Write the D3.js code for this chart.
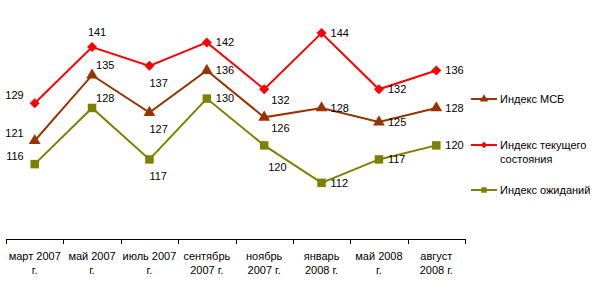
<!DOCTYPE html>
<html>
<head>
<meta charset="utf-8">
<script src="https://cdn.jsdelivr.net/npm/d3@7"></script>
<style>
  body { margin: 0; background: #fff; }
  svg { display: block; font-family: "Liberation Sans", Arial, sans-serif; }
</style>
</head>
<body>
<svg id="chart"></svg>
<script>
// categories and series
var categories = ["март 2007 г.", "май 2007 г.", "июль 2007 г.", "сентябрь 2007 г.",
  "ноябрь 2007 г.", "январь 2008 г.", "май 2008 г.", "август 2008 г."];
var msbValues = [121, 135, 127, 136, 126, 128, 125, 128];
var currentValues = [129, 141, 137, 142, 132, 144, 132, 136];
var expectValues = [116, 128, 117, 130, 120, 112, 117, 120];
var seriesNames = ["Индекс МСБ", "Индекс текущего состояния", "Индекс ожиданий"];

// where each value label sits relative to its point
var msbLabelPos = ["l", "ar", "b", "r", "br", "r", "r", "r"];
var currentLabelPos = ["l", "a", "b", "r", "br", "r", "r", "r"];
var expectLabelPos = ["l", "ar", "b", "r", "b2", "r", "r", "r"];

var width = 600, height = 291;
var plot = { left: 6, right: 465, top: 5, bottom: 239 };

var svg = d3.select("#chart").attr("width", width).attr("height", height);

var xscale = d3.scaleBand().domain(categories).range([plot.left, plot.right]);
var yscale = d3.scaleLinear().domain([100, 150]).range([plot.bottom, plot.top]);

// x axis
var xaxis = d3.axisBottom(xscale).tickSize(0).tickFormat("");
var gx = svg.append("g")
  .attr("transform", "translate(0," + plot.bottom + ")")
  .call(xaxis);
gx.select(".domain").attr("stroke", "#000").attr("d", "M" + plot.left + ",0.5H" + plot.right);

// tick marks between categories
var edges = categories.map(function (c) { return xscale(c); }).concat([plot.right]);
gx.selectAll(".sep")
  .data(edges)
  .enter()
  .append("line")
  .attr("x1", function (d) { return Math.round(d) + 0.5; })
  .attr("x2", function (d) { return Math.round(d) + 0.5; })
  .attr("y1", 0)
  .attr("y2", 5)
  .attr("stroke", "#000");

// category labels, wrapped to band width
categories.forEach(function (c) {
  var cx = xscale(c) + xscale.bandwidth() / 2;
  var t = svg.append("text")
    .attr("x", cx)
    .attr("y", 260)
    .attr("text-anchor", "middle")
    .style("font-size", "11px")
    .attr("fill", "#000");
  var words = c.split(" ");
  var line = [];
  var tspan = t.append("tspan").attr("x", cx).attr("dy", 0);
  words.forEach(function (w) {
    line.push(w);
    tspan.text(line.join(" "));
    if (tspan.node().getComputedTextLength() > xscale.bandwidth() - 2 && line.length > 1) {
      line.pop();
      tspan.text(line.join(" "));
      line = [w];
      tspan = t.append("tspan").attr("x", cx).attr("dy", 14).text(w);
    }
  });
});

var series = [
  { values: msbValues, color: "#993300", marker: d3.symbolTriangle, size: 60, rot: 0, pos: msbLabelPos, lsize: 30 },
  { values: currentValues, color: "#FF0000", marker: d3.symbolSquare, size: 50, rot: 45, pos: currentLabelPos, lsize: 20 },
  { values: expectValues, color: "#808000", marker: d3.symbolSquare, size: 72, rot: 0, pos: expectLabelPos, lsize: 30 }
];

var labelOffsets = {
  l: { dx: -11, dy: -8, anchor: "end" },
  a: { dx: 5, dy: -15, anchor: "middle" },
  ar: { dx: 4, dy: -10, anchor: "start" },
  b: { dx: 0, dy: 17, anchor: "start" },
  b2: { dx: 4, dy: 22, anchor: "start" },
  br: { dx: 7, dy: 11, anchor: "start" },
  r: { dx: 9, dy: 0, anchor: "start" }
};

var line = d3.line()
  .x(function (d, i) { return xscale(categories[i]) + xscale.bandwidth() / 2; })
  .y(function (d) { return yscale(d); });

series.forEach(function (s) {
  svg.append("path")
    .attr("fill", "none")
    .attr("stroke", s.color)
    .attr("stroke-width", 2)
    .attr("d", line(s.values));

  svg.selectAll(null)
    .data(s.values)
    .enter()
    .append("path")
    .attr("d", d3.symbol().type(s.marker).size(s.size))
    .attr("fill", s.color)
    .attr("transform", function (d, i) {
      return "translate(" + (xscale(categories[i]) + xscale.bandwidth() / 2) + "," + yscale(d) + ")rotate(" + s.rot + ")";
    });

  svg.selectAll(null)
    .data(s.values)
    .enter()
    .append("text")
    .attr("x", function (d, i) {
      return xscale(categories[i]) + xscale.bandwidth() / 2 + labelOffsets[s.pos[i]].dx;
    })
    .attr("y", function (d, i) { return yscale(d) + labelOffsets[s.pos[i]].dy; })
    .attr("dy", "0.35em")
    .attr("text-anchor", function (d, i) { return labelOffsets[s.pos[i]].anchor; })
    .style("font-size", "11px")
    .attr("fill", "#000")
    .text(function (d) { return d; });
});

// legend
var legendY = [99, 145, 190];
var legendLines = [["Индекс МСБ"], ["Индекс текущего", "состояния"], ["Индекс ожиданий"]];
series.forEach(function (s, i) {
  var g = svg.append("g").attr("transform", "translate(0," + legendY[i] + ")");
  g.append("line")
    .attr("x1", 471).attr("x2", 497)
    .attr("y1", 0).attr("y2", 0)
    .attr("stroke", s.color)
    .attr("stroke-width", 2);
  g.append("path")
    .attr("d", d3.symbol().type(s.marker).size(s.lsize))
    .attr("fill", s.color)
    .attr("transform", "translate(484,0)rotate(" + s.rot + ")");
  var t = g.append("text")
    .attr("x", 500)
    .attr("y", 0)
    .style("font-size", "11px")
    .attr("fill", "#000");
  legendLines[i].forEach(function (l, j) {
    t.append("tspan").attr("x", 500).attr("dy", j === 0 ? "0.35em" : 14).text(l);
  });
});
</script>
</body>
</html>
